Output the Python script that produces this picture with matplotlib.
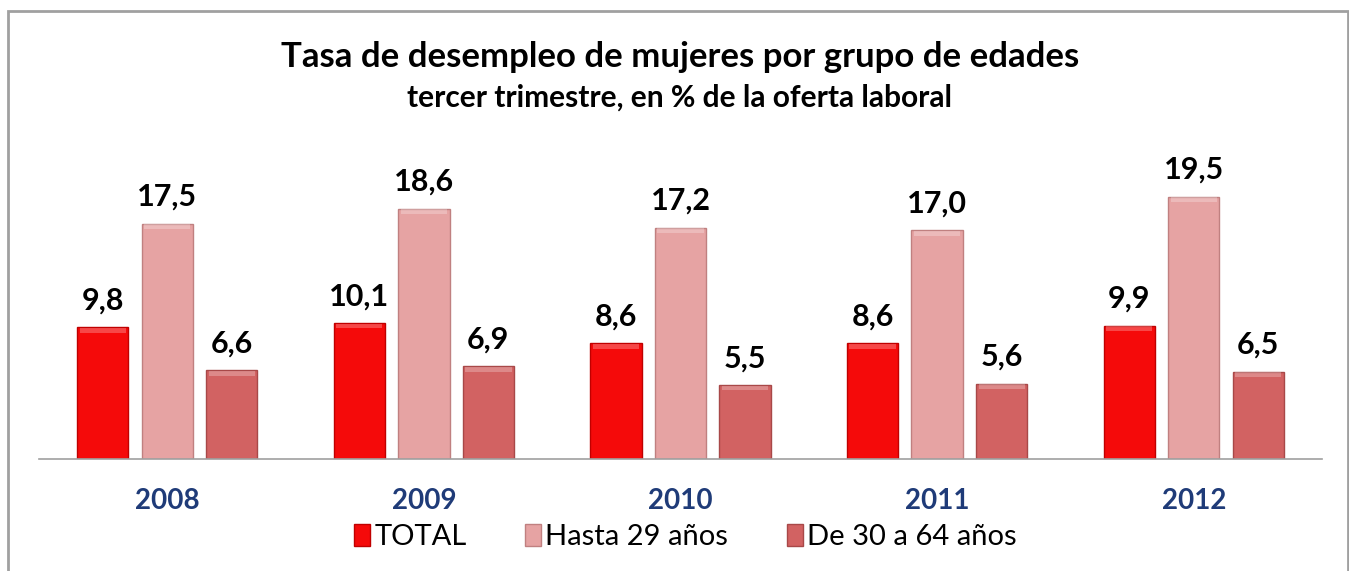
import numpy as np
import matplotlib.pyplot as plt
from matplotlib.patches import Rectangle

years = ['2008', '2009', '2010', '2011', '2012']
series = ['TOTAL', 'Hasta 29 años', 'De 30 a 64 años']
total = [9.8, 10.1, 8.6, 8.6, 9.9]
hasta29 = [17.5, 18.6, 17.2, 17.0, 19.5]
de30a64 = [6.6, 6.9, 5.5, 5.6, 6.5]
colors = ['#F50A0A', '#E6A3A3', '#D26262']
edges = ['#C00000', '#C08080', '#A84848']

plt.rcParams['font.family'] = ['Lato', 'DejaVu Sans']

fig = plt.figure(figsize=(13.49, 5.71), dpi=100)
# chart border
fig.patches.append(Rectangle((8 / 1349, -0.01), (1340 / 1349), 1 - 11 / 571 + 0.01,
                             transform=fig.transFigure, fill=False,
                             edgecolor='#A0A0A0', linewidth=2))

ax = fig.add_axes([39 / 1349, 112 / 571, 1283 / 1349, 296 / 571])
x = np.arange(len(years))
w = 0.2
step = 0.2515
for i, (vals, c, ec) in enumerate(zip([total, hasta29, de30a64], colors, edges)):
    pos = x + (i - 1) * step
    ax.bar(pos, vals, w, color=c, edgecolor=ec, linewidth=1, label=series[i], zorder=2)
    # bevel highlight on top
    ax.bar(pos, [0.35] * len(vals), w * 0.9, bottom=np.array(vals) - 0.4,
           color='white', alpha=0.25, linewidth=0, zorder=3)
    for p, v in zip(pos, vals):
        ax.text(p, v + 0.95, f'{v:.1f}'.replace('.', ','), ha='center', va='bottom',
                fontsize=22, fontweight='bold', color='black')

ax.set_xlim(-0.5, 4.5)
ax.set_ylim(0, 22)
ax.set_yticks([])
ax.set_xticks(x)
ax.set_xticklabels(years, fontsize=20, fontweight='bold', color='#1F3B78')
ax.tick_params(axis='x', length=0, pad=21)
for s in ['top', 'right', 'left']:
    ax.spines[s].set_visible(False)
ax.spines['bottom'].set_color('#A0A0A0')
ax.spines['bottom'].set_linewidth(1.2)

fig.text(0.504, 1 - 57 / 571, 'Tasa de desempleo de mujeres por grupo de edades',
         ha='center', va='center', fontsize=25, fontweight='bold')
fig.text(0.504, 1 - 98 / 571, 'tercer trimestre, en % de la oferta laboral',
         ha='center', va='center', fontsize=21.5, fontweight='bold')

leg = fig.legend(loc='center', bbox_to_anchor=(0.508, 1 - 537 / 571), ncol=3,
                 frameon=False, fontsize=21, handlelength=0.55, handleheight=0.75,
                 handletextpad=0.15, columnspacing=2.0)

fig.savefig('out.png', dpi=100)
